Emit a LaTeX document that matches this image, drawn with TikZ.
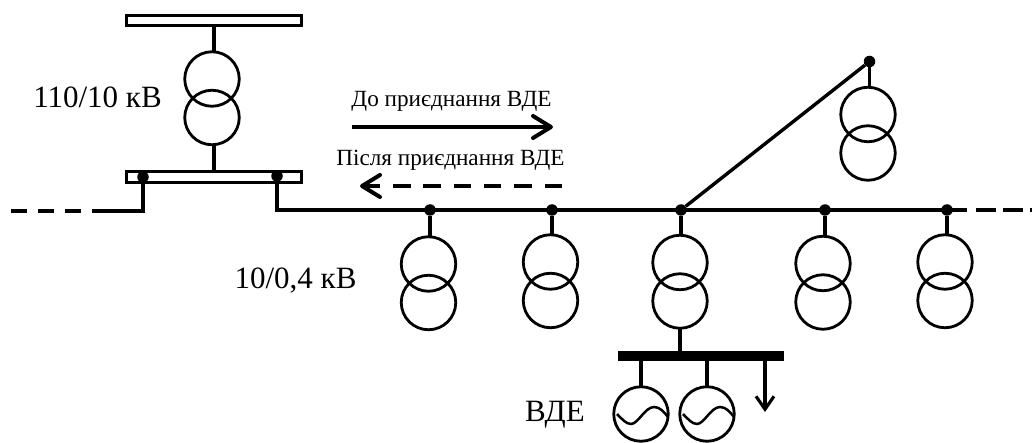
\documentclass[tikz,border=0pt]{standalone}
\usepackage{fontspec}
\setmainfont{Liberation Serif}
\usetikzlibrary{arrows.meta}
\usetikzlibrary{calc}

\tikzset{
  wire/.style={line width=3.1pt},
  feeder/.style={line width=3.4pt},
  busbar/.style={draw,line width=2.8pt,fill=white,minimum width=175pt,minimum height=10.5pt,inner sep=0pt},
  winding/.style={draw,circle,line width=2.8pt,minimum size=54.5pt,inner sep=0pt,outer sep=0pt},
  junction/.style={circle,fill=black,inner sep=0pt,minimum size=11.5pt},
  flow/.style={line width=4pt,-{Straight Barb[length=18pt,width=22pt,round]}},
  caption/.style={font=\fontsize{23.2}{26}\selectfont,inner sep=0pt,anchor=base},
  voltage/.style={font=\fontsize{31}{34}\selectfont,inner sep=0pt,anchor=base}
}

\newcommand{\trafo}[3]{%
  \node[winding] (#1a) at (#2,#3) {};
  \node[winding] (#1b) at (#2,#3+38.5) {};
}

\begin{document}
\begin{tikzpicture}[x=1pt,y=-1pt]
    \useasboundingbox (0,0) rectangle (1032,443);

		% infeed
		\node[busbar] (bustop) at (214,20.5) {};
		\node[busbar] (buslow) at (214,177) {};
		\trafo{main}{212}{79}
		\draw[wire] (bustop.south)--(bustop.south |- maina.north);
		\draw[wire] (buslow.north)--(buslow.north |- mainb.south);
		\node[voltage] (lab110) at (97.5,108) {110/10 кВ};

		\node[junction] (tapl) at (143,177) {};
		\node[junction] (tapr) at (277,176) {};
		\coordinate (westend) at (11,211);
		\coordinate (westbreak) at (93,211);
		\coordinate (westkink) at (143,211);
		\coordinate (eastbreak) at (967,210);
		\coordinate (eastdash) at (976,210);
		\coordinate (eastend) at (1032,210);
		\draw[feeder,dash pattern=on 15.5pt off 11.5pt] (westend)--(westbreak);
		\draw[feeder,line join=miter] (westbreak)--(westkink)--(tapl);

		% feeder
		\node[junction] (j1) at (430,210) {};
		\node[junction] (j2) at (552,210) {};
		\node[junction] (j3) at (681,210) {};
		\node[junction] (j4) at (825,210) {};
		\node[junction] (j5) at (947,210) {};
		\node[junction] (j6) at (869.5,61.5) {};
		\draw[feeder] (tapr)--(277,210)--(eastbreak);
		\draw[feeder,dash pattern=on 20pt off 7pt] (eastdash)--(eastend);
		\draw[feeder] (j3)--(j6);

		\trafo{ta}{428.5}{264}
		\trafo{tb}{550.5}{262}
		\trafo{tc}{680}{262.5}
		\trafo{td}{823}{263.5}
		\trafo{te}{945}{262}
		\trafo{tf}{868}{114.5}
		\draw[wire] (j1)--(j1 |- taa.north);
		\draw[wire] (j2)--(j2 |- tba.north);
		\draw[wire] (j3)--(j3 |- tca.north);
		\draw[wire] (j4)--(j4 |- tda.north);
		\draw[wire] (j5)--(j5 |- tea.north);
		\draw[wire] (j6)--(j6 |- tfa.north);
		\node[voltage] (lab10) at (295.5,289) {10/0,4 кВ};

		% flow arrows
		\node[caption] (before) at (451.5,107) {До приєднання ВДЕ};
		\node[caption] (after) at (450.5,166) {Після приєднання ВДЕ};
		\coordinate (bs) at (352,127);
		\coordinate (be) at (553,127);
		\coordinate (as) at (562,186);
		\coordinate (ae) at (360,186);
		\draw[flow] (bs)--(be);
		\draw[flow,dash pattern=on 17.5pt off 12.8pt] (as)--(ae);

		% generation
		\node[fill=black,minimum width=166pt,minimum height=10pt,inner sep=0pt] (busres) at (701,356) {};
		\draw[wire] (tcb.south)--(tcb.south |- busres.north);
		\node[winding] (ga) at (641,414) {};
		\node[winding] (gb) at (707,414) {};
		\foreach \g in {ga,gb}{
		  \draw[line width=2.5pt] ($(\g)+(-24,0)$) .. controls ($(\g)+(-19,5)$) and ($(\g)+(-15,10)$) .. ($(\g)+(-10,10)$)
		    .. controls ($(\g)+(-3,10)$) and ($(\g)+(4,-7)$) .. ($(\g)+(13,-7)$)
		    .. controls ($(\g)+(19,-7)$) and ($(\g)+(23,-2)$) .. ($(\g)+(27,3)$);
		}
		\draw[wire] (ga.north)--(ga.north |- busres.south);
		\draw[wire] (gb.north)--(gb.north |- busres.south);
		\coordinate (loadend) at (765,412);
		\draw[wire,-{Straight Barb[length=13pt,width=18pt]}] (loadend |- busres.south)--(loadend);
		\node[voltage] (labres) at (555,421) {ВДЕ};
\end{tikzpicture}
\end{document}
